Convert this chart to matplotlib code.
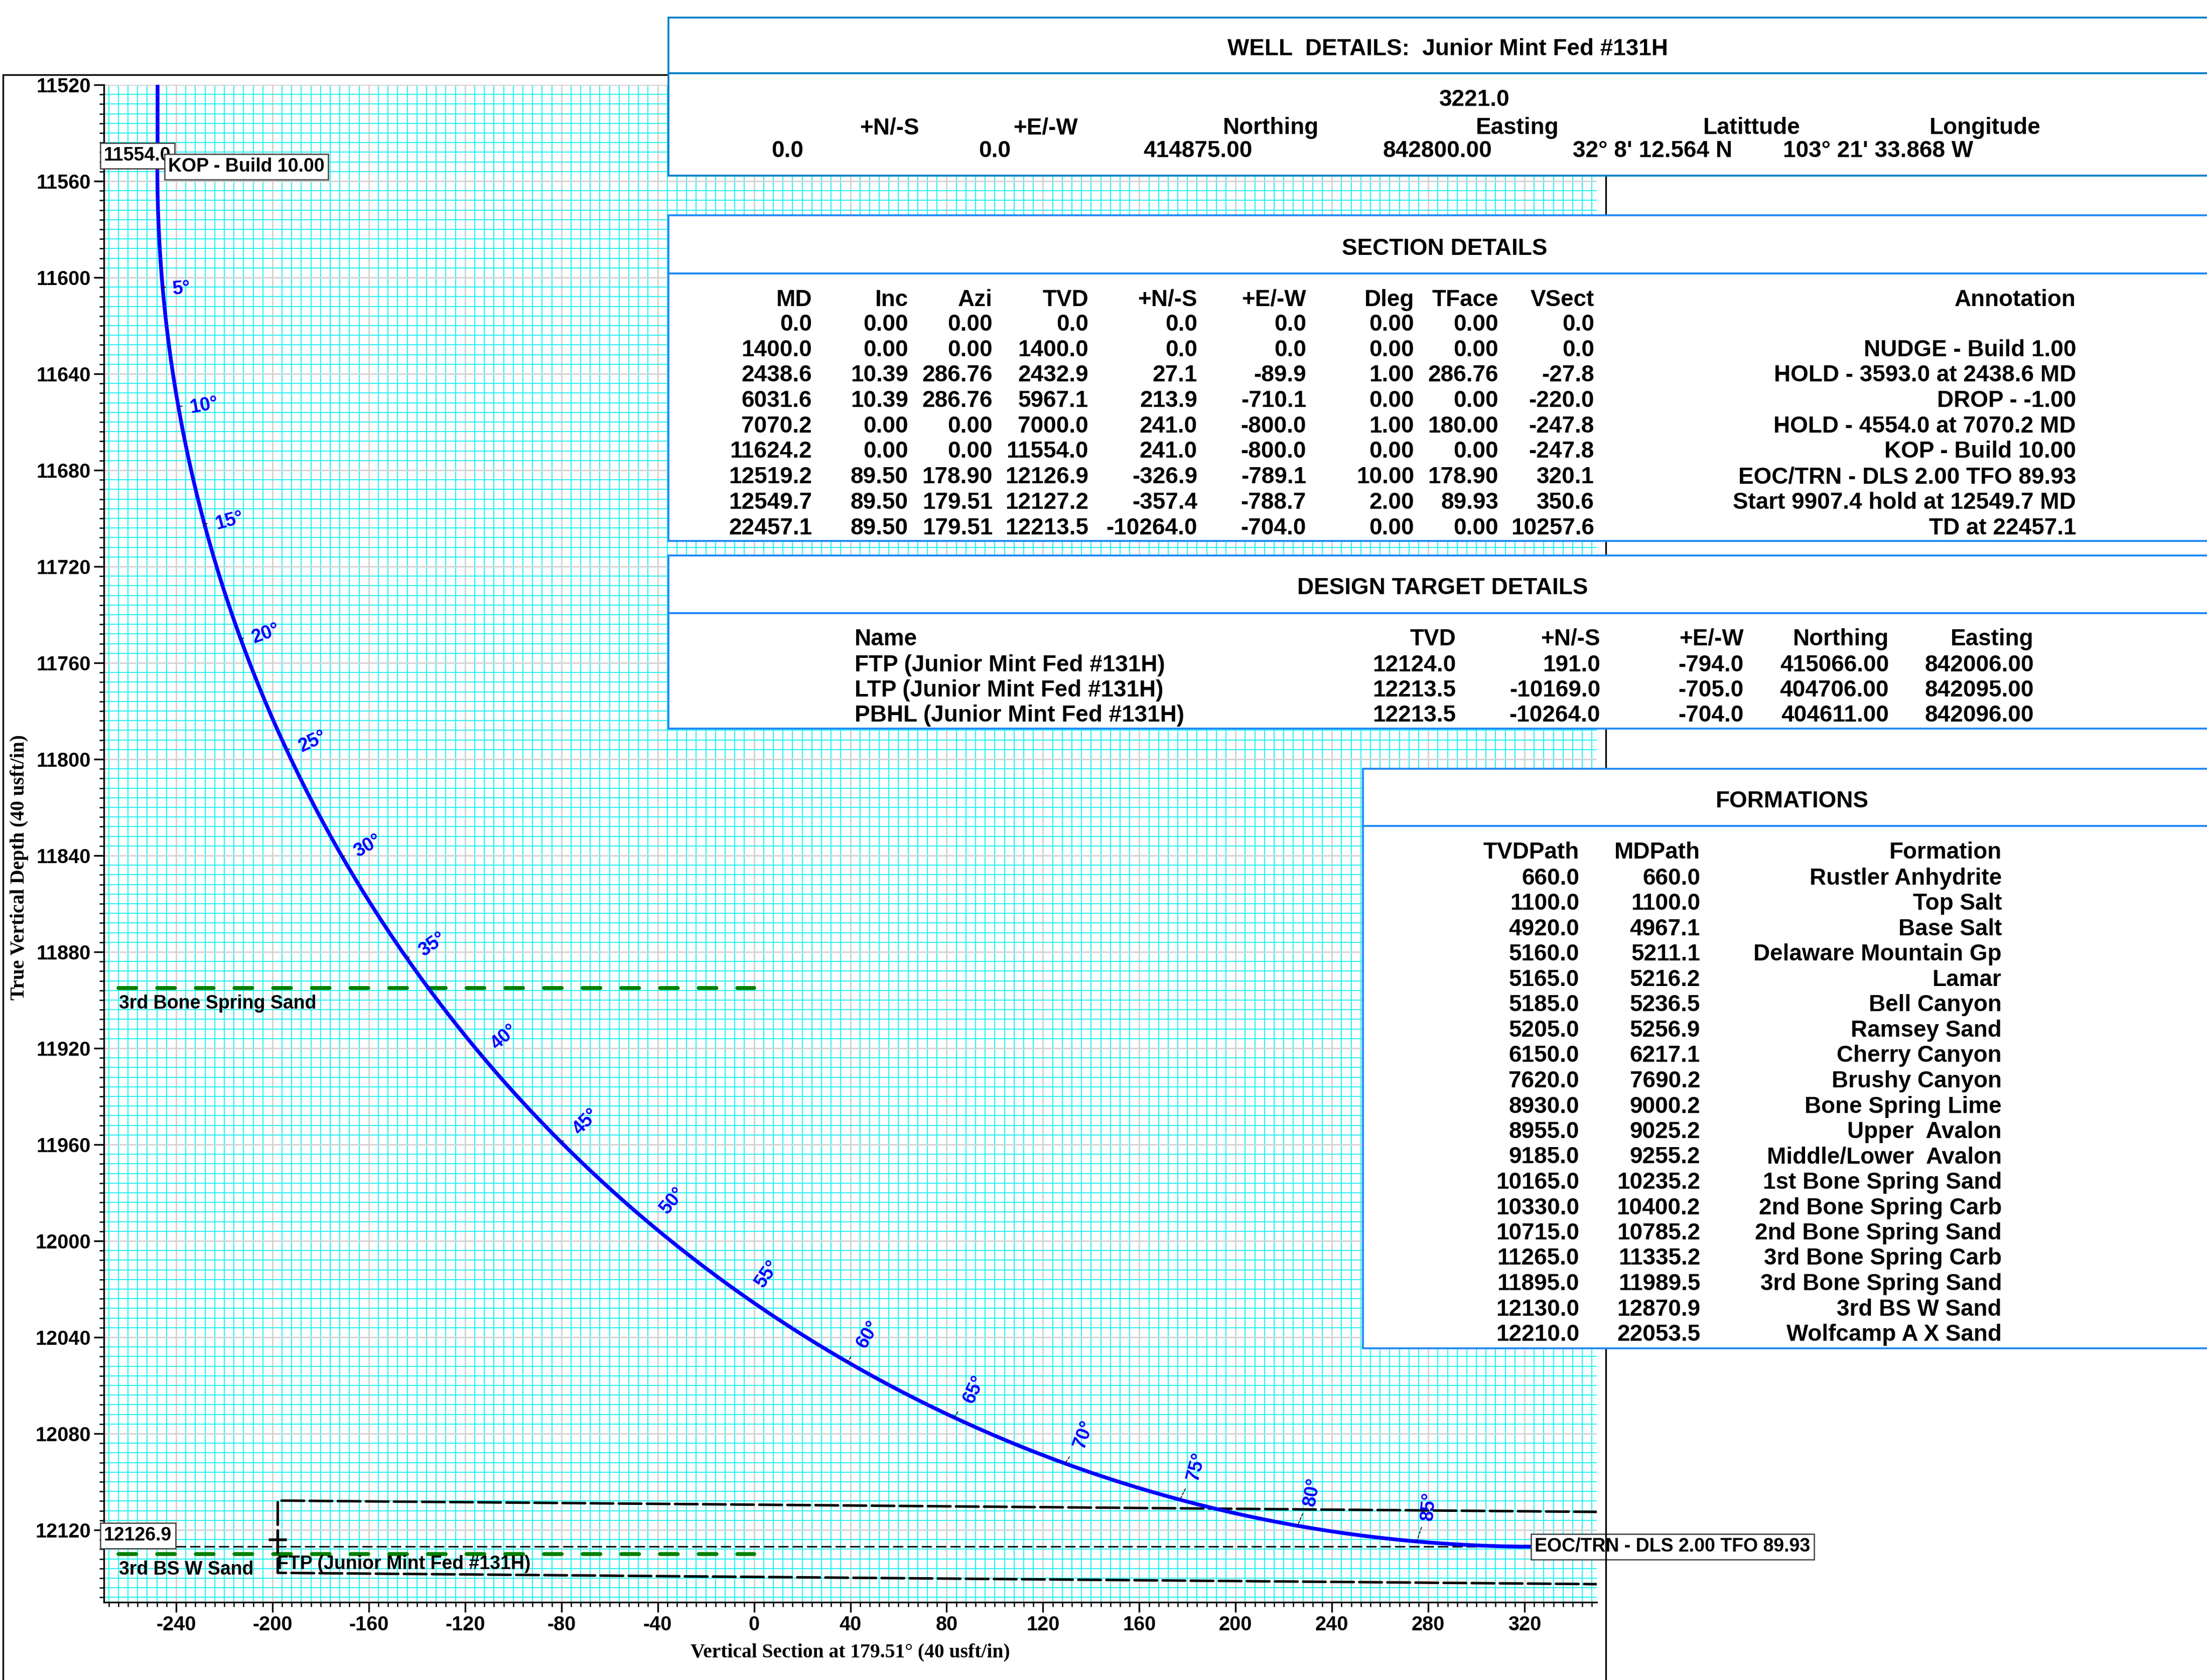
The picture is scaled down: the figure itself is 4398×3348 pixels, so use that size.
import matplotlib.pyplot as plt
from matplotlib.patches import Rectangle, Arc
from matplotlib.ticker import MultipleLocator, FormatStrFormatter

W, H = 4398, 3348
DPI = 300

# build section: radius of the 10/100 build (usft)
build_radius = 572.96

# points on the build at each 5 deg of inclination (VS, TVD)
inc_deg = [5, 10, 15, 20, 25, 30, 35, 40, 45, 50, 55, 60, 65, 70, 75, 80, 85]
inc_vs = [-245.6, -239.1, -228.3, -213.2, -194.1, -171.0, -144.2, -113.8, -80.0, -43.1,
          -3.5, 38.7, 83.0, 129.2, 176.9, 225.7, 275.2]
inc_tvd = [11603.9, 11653.5, 11702.3, 11750.0, 11796.1, 11840.5, 11882.6, 11922.3, 11959.1,
           11992.9, 12023.3, 12050.2, 12073.3, 12092.4, 12107.4, 12118.3, 12124.8]
inc_lbl_vs = [-237.7, -228.3, -217.8, -202.6, -183.3, -160.5, -133.6, -103.8, -69.9, -33.7,
              5.5, 47.5, 91.4, 137.0, 183.7, 231.7, 280.2]
inc_lbl_tvd = [11604.7, 11653.2, 11701.1, 11747.8, 11792.8, 11836.1, 11877.0, 11915.5, 11950.6,
               11983.3, 12013.7, 12038.8, 12061.6, 12080.3, 12093.7, 12104.2, 12110.1]

# target window around the lateral (FTP corner)
ftp_vs, ftp_tvd = -197.8, 12124.0
win_vs = [350.0, -197.8, -197.8, 350.0]
win_tvd = [12112.5, 12107.8, 12137.8, 12142.5]

# well details
well_title = 'WELL  DETAILS:  Junior Mint Fed #131H'
well_elev = '3221.0'
well_cols = ['+N/-S', '+E/-W', 'Northing', 'Easting', 'Latittude', 'Longitude']
well_vals = ['0.0', '0.0', '414875.00', '842800.00', "32\u00b0 8' 12.564 N", "103\u00b0 21' 33.868 W"]

# section details
sec_cols = ['MD', 'Inc', 'Azi', 'TVD', '+N/-S', '+E/-W', 'Dleg', 'TFace', 'VSect', 'Annotation']
sec_md = [0.0, 1400.0, 2438.6, 6031.6, 7070.2, 11624.2, 12519.2, 12549.7, 22457.1]
sec_inc = [0.0, 0.0, 10.39, 10.39, 0.0, 0.0, 89.50, 89.50, 89.50]
sec_azi = [0.0, 0.0, 286.76, 286.76, 0.0, 0.0, 178.90, 179.51, 179.51]
sec_tvd = [0.0, 1400.0, 2432.9, 5967.1, 7000.0, 11554.0, 12126.9, 12127.2, 12213.5]
sec_ns = [0.0, 0.0, 27.1, 213.9, 241.0, 241.0, -326.9, -357.4, -10264.0]
sec_ew = [0.0, 0.0, -89.9, -710.1, -800.0, -800.0, -789.1, -788.7, -704.0]
sec_dleg = [0.0, 0.0, 1.00, 0.0, 1.00, 0.0, 10.00, 2.00, 0.0]
sec_tface = [0.0, 0.0, 286.76, 0.0, 180.00, 0.0, 178.90, 89.93, 0.0]
sec_vsect = [0.0, 0.0, -27.8, -220.0, -247.8, -247.8, 320.1, 350.6, 10257.6]
sec_annot = ['', 'NUDGE - Build 1.00', 'HOLD - 3593.0 at 2438.6 MD', 'DROP - -1.00',
             'HOLD - 4554.0 at 7070.2 MD', 'KOP - Build 10.00', 'EOC/TRN - DLS 2.00 TFO 89.93',
             'Start 9907.4 hold at 12549.7 MD', 'TD at 22457.1']

# design targets
tgt_cols = ['Name', 'TVD', '+N/-S', '+E/-W', 'Northing', 'Easting']
tgt_name = ['FTP (Junior Mint Fed #131H)', 'LTP (Junior Mint Fed #131H)', 'PBHL (Junior Mint Fed #131H)']
tgt_tvd = [12124.0, 12213.5, 12213.5]
tgt_ns = [191.0, -10169.0, -10264.0]
tgt_ew = [-794.0, -705.0, -704.0]
tgt_north = [415066.00, 404706.00, 404611.00]
tgt_east = [842006.00, 842095.00, 842096.00]

# formations
form_tvd = [660.0, 1100.0, 4920.0, 5160.0, 5165.0, 5185.0, 5205.0, 6150.0, 7620.0, 8930.0,
            8955.0, 9185.0, 10165.0, 10330.0, 10715.0, 11265.0, 11895.0, 12130.0, 12210.0]
form_md = [660.0, 1100.0, 4967.1, 5211.1, 5216.2, 5236.5, 5256.9, 6217.1, 7690.2, 9000.2,
           9025.2, 9255.2, 10235.2, 10400.2, 10785.2, 11335.2, 11989.5, 12870.9, 22053.5]
form_name = ['Rustler Anhydrite', 'Top Salt', 'Base Salt', 'Delaware Mountain Gp', 'Lamar',
             'Bell Canyon', 'Ramsey Sand', 'Cherry Canyon', 'Brushy Canyon', 'Bone Spring Lime',
             'Upper  Avalon', 'Middle/Lower  Avalon', '1st Bone Spring Sand', '2nd Bone Spring Carb',
             '2nd Bone Spring Sand', '3rd Bone Spring Carb', '3rd Bone Spring Sand', '3rd BS W Sand',
             'Wolfcamp A X Sand']
form_line_vs = [-264.0, 0.0]

plt.rcParams['font.family'] = ['Liberation Sans', 'DejaVu Sans']
plt.rcParams['font.weight'] = 'bold'
plt.rcParams['axes.unicode_minus'] = False

fig = plt.figure(figsize=(W / DPI, H / DPI), dpi=DPI)
ax = fig.add_axes([207 / W, 1 - 3193 / H, (3182 - 207) / W, (3193 - 169) / H])
ax.set_xlim(-270, 350)
ax.set_ylim(12150, 11520)

ax.xaxis.set_major_locator(MultipleLocator(40))
ax.xaxis.set_minor_locator(MultipleLocator(4))
ax.yaxis.set_major_locator(MultipleLocator(40))
ax.yaxis.set_minor_locator(MultipleLocator(4))
ax.xaxis.set_major_formatter(FormatStrFormatter('%d'))
ax.yaxis.set_major_formatter(FormatStrFormatter('%d'))
ax.set_axisbelow(True)
ax.grid(which='minor', color='#30f0f0', lw=0.5)
ax.grid(which='major', color='#d4d4d4', lw=0.7)
for s in ['top', 'right']:
    ax.spines[s].set_visible(False)
for s in ['left', 'bottom']:
    ax.spines[s].set_linewidth(0.8)
ax.tick_params(which='major', length=4.8, width=0.8, labelsize=9.5, pad=1.5)
ax.tick_params(which='minor', length=2.2, width=0.6)

# formation tops that fall in view
for t, name in zip(form_tvd, form_name):
    if 11520 <= t <= 12150:
        ax.plot(form_line_vs, [t, t], color='green', lw=1.85, dashes=(4.6, 5.4),
                solid_capstyle='round', dash_capstyle='round', zorder=2)
        ax.text(form_line_vs[0] + 0.2, t + 6.5, name, ha='left', va='center', fontsize=9, zorder=4)

# target window, FTP marker
ax.plot(win_vs, win_tvd, color='black', lw=1.2, dashes=(9, 2.2), dash_capstyle='round', zorder=2)
ax.plot(ftp_vs, ftp_tvd, marker='+', ms=8.5, mew=1.3, color='black', zorder=3)
ax.text(ftp_vs - 0.3, ftp_tvd + 10.2, tgt_name[0], ha='left', va='center', fontsize=9, zorder=4)

# EOC reference line
kop_vs, kop_tvd = sec_vsect[5], sec_tvd[5]
eoc_vs, eoc_tvd = sec_vsect[6], sec_tvd[6]
ax.plot([-270, eoc_vs], [eoc_tvd, eoc_tvd], color='black', lw=0.7, dashes=(7, 2.8), zorder=2)

# well path: vertical hold to KOP, circular build, then the lateral
ax.plot(sec_vsect[4:6], sec_tvd[4:6], color='#0000ff', lw=1.8, zorder=3, solid_capstyle='round')
ax.add_patch(Arc((kop_vs + build_radius, kop_tvd), 2 * build_radius, 2 * build_radius,
                 theta1=180 - sec_inc[6], theta2=180, color='#0000ff', lw=1.8, zorder=3))
ax.plot(sec_vsect[6:], sec_tvd[6:], color='#0000ff', lw=1.8, zorder=3, solid_capstyle='round')

# inclination labels
for i, d in enumerate(inc_deg):
    ax.annotate('%d\u00b0' % d, xy=(inc_vs[i], inc_tvd[i]),
                xytext=(inc_lbl_vs[i], inc_lbl_tvd[i]), ha='center', va='center',
                rotation=d, rotation_mode='anchor', fontsize=9, color='#0000ff', zorder=4,
                arrowprops=dict(arrowstyle='-', lw=0.4, ls=(0, (3, 2)), color='black',
                                shrinkA=1, shrinkB=0))

box_style = dict(boxstyle='square,pad=0.2', fc='white', ec='#404040', lw=0.6)
ax.text(-270, kop_tvd - 4.6, '%.1f' % kop_tvd, ha='left', va='center', fontsize=9,
        bbox=box_style, zorder=5, clip_on=False)
ax.text(kop_vs + 4.5, kop_tvd, sec_annot[5], ha='left', va='center', fontsize=9,
        bbox=box_style, zorder=5, clip_on=False)
ax.text(-270, eoc_tvd - 4.6, '%.1f' % eoc_tvd, ha='left', va='center', fontsize=9,
        bbox=box_style, zorder=5, clip_on=False)
ax.text(eoc_vs + 4.1, eoc_tvd, sec_annot[6], ha='left', va='center', fontsize=9,
        bbox=box_style, zorder=6, clip_on=False)

fig.text(39 / W, 1 - 1729 / H, 'True Vertical Depth (40 usft/in)', rotation=90, ha='center',
         va='center', fontsize=9.5, family=['Liberation Serif', 'DejaVu Serif'])
fig.text(1694 / W, 1 - 3293 / H, 'Vertical Section at 179.51\u00b0 (40 usft/in)', ha='center',
         va='center', fontsize=9.5, family=['Liberation Serif', 'DejaVu Serif'])

# outer frame
fig.add_artist(Rectangle((6 / W, 1 - 3420 / H), (3200 - 6) / W, (3420 - 149) / H,
                         transform=fig.transFigure, fill=False, ec='black', lw=0.8, zorder=1))


def box(x0, top, sep, bot, color):
    for a, b in ((top, sep), (sep, bot)):
        fig.add_artist(Rectangle((x0 / W, 1 - b / H), (W + 40 - x0) / W, (b - a) / H,
                                 transform=fig.transFigure, fc='white', ec=color, lw=0.9, zorder=2))


def txt(x, y, s, ha='right'):
    # y is the centre of the capitals, in pixels from the top
    fig.text(x / W, 1 - (y + 16) / H, s, ha=ha, va='baseline', fontsize=11, zorder=3)


# well details
box(1332, 35, 146, 350, '#0b80c8')
txt(2885, 94, well_title, ha='center')
txt(3009, 195, well_elev)
for x, s in zip([1832, 2148, 2628, 3106, 3588, 4067], well_cols):
    txt(x, 251, s)
for x, s in zip([1601, 2014, 2496, 2973, 3452, 3932], well_vals):
    txt(x, 297, s)

# section details
box(1332, 429, 545, 1078, '#1e88f5')
txt(2879, 492, 'SECTION DETAILS', ha='center')
sec_x = [1618, 1810, 1978, 2169, 2386, 2603, 2818, 2986, 3177, 4137]
for x, s in zip(sec_x, sec_cols):
    txt(x, 594, s)
for r in range(len(sec_md)):
    y = 643 + 50.7 * r
    vals = ['%.1f' % sec_md[r], '%.2f' % sec_inc[r], '%.2f' % sec_azi[r], '%.1f' % sec_tvd[r],
            '%.1f' % sec_ns[r], '%.1f' % sec_ew[r], '%.2f' % sec_dleg[r], '%.2f' % sec_tface[r],
            '%.1f' % sec_vsect[r], sec_annot[r]]
    for x, s in zip(sec_x, vals):
        txt(x, y, s)

# design targets
box(1332, 1107, 1222, 1452, '#1e88f5')
txt(2875, 1168, 'DESIGN TARGET DETAILS', ha='center')
tgt_x = [2901, 3189, 3475, 3764, 4053]
txt(1703, 1270, tgt_cols[0], ha='left')
for x, s in zip(tgt_x, tgt_cols[1:]):
    txt(x, 1270, s)
for r in range(len(tgt_name)):
    y = 1322 + 50 * r
    txt(1703, y, tgt_name[r], ha='left')
    vals = ['%.1f' % tgt_tvd[r], '%.1f' % tgt_ns[r], '%.1f' % tgt_ew[r],
            '%.2f' % tgt_north[r], '%.2f' % tgt_east[r]]
    for x, s in zip(tgt_x, vals):
        txt(x, y, s)

# formations
box(2716, 1532, 1646, 2687, '#1e88f5')
txt(3571, 1593, 'FORMATIONS', ha='center')
form_x = [3147, 3388, 3989]
for x, s in zip(form_x, ['TVDPath', 'MDPath', 'Formation']):
    txt(x, 1695, s)
for r in range(len(form_name)):
    y = 1747 + 50.5 * r
    for x, s in zip(form_x, ['%.1f' % form_tvd[r], '%.1f' % form_md[r], form_name[r]]):
        txt(x, y, s)

fig.savefig('out.png', dpi=DPI)
